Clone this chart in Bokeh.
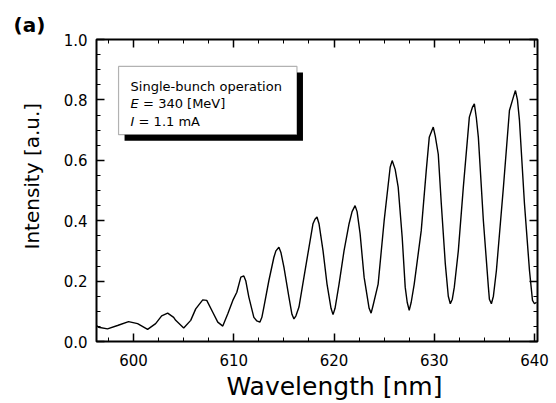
from bokeh.plotting import figure
from bokeh.models import (LinearAxis, SingleIntervalTicker, Range1d, Label, Title,
                          BoxAnnotation, CustomJSTickFormatter)
from bokeh.embed import file_html
from bokeh.resources import INLINE

# ---- data ----
wavelength = [596.3, 596.5, 597.4, 598.4, 599.5, 600.4, 601.4, 602.2, 602.8, 603.4,
              604.0, 604.2, 605.0, 605.7, 606.2, 606.9, 607.3, 607.9, 608.4, 608.9,
              609.4, 609.9, 610.3, 610.7, 611.0, 611.2, 611.5, 612.0, 612.3, 612.6,
              612.8, 613.0, 613.5, 614.0, 614.2, 614.5, 614.7, 615.0, 615.5, 615.8,
              616.0, 616.2, 616.5, 617.0, 617.5, 617.9, 618.1, 618.3, 618.5, 618.9,
              619.3, 619.7, 619.9, 620.1, 620.5, 621.0, 621.5, 621.8, 622.1, 622.3,
              622.6, 623.0, 623.5, 623.7, 623.9, 624.4, 625.0, 625.6, 625.8, 626.1,
              626.4, 626.8, 627.1, 627.3, 627.5, 627.7, 628.0, 628.7, 629.2, 629.5,
              629.9, 630.1, 630.4, 630.7, 631.1, 631.4, 631.6, 631.8, 632.0, 632.4,
              632.9, 633.5, 633.8, 634.0, 634.2, 634.4, 634.9, 635.4, 635.5, 635.7,
              635.9, 636.2, 636.9, 637.5, 637.9, 638.1, 638.3, 638.5, 639.0, 639.5,
              639.8, 640.0, 640.2]
intensity = [0.053, 0.047, 0.042, 0.053, 0.066, 0.059, 0.040, 0.059, 0.085, 0.094,
             0.080, 0.070, 0.045, 0.070, 0.108, 0.138, 0.136, 0.097, 0.064, 0.051,
             0.092, 0.136, 0.163, 0.213, 0.217, 0.200, 0.147, 0.080, 0.068, 0.064,
             0.080, 0.114, 0.202, 0.279, 0.300, 0.312, 0.295, 0.246, 0.147, 0.090,
             0.075, 0.085, 0.114, 0.213, 0.312, 0.390, 0.405, 0.412, 0.390, 0.301,
             0.190, 0.110, 0.089, 0.110, 0.190, 0.301, 0.390, 0.430, 0.450, 0.430,
             0.357, 0.213, 0.110, 0.094, 0.120, 0.190, 0.400, 0.577, 0.599, 0.570,
             0.511, 0.345, 0.180, 0.130, 0.103, 0.130, 0.190, 0.367, 0.566, 0.676,
             0.710, 0.680, 0.620, 0.457, 0.258, 0.150, 0.125, 0.140, 0.180, 0.300,
             0.511, 0.743, 0.775, 0.787, 0.740, 0.676, 0.400, 0.180, 0.140, 0.125,
             0.150, 0.235, 0.511, 0.765, 0.810, 0.831, 0.800, 0.732, 0.456, 0.235,
             0.136, 0.125, 0.130]

x_tick_step = 10
y_tick_step = 0.2
panel_label = "(a)"
x_title = "Wavelength [nm]"
y_title = "Intensity [a.u.]"
note_line1 = "Single-bunch operation"
note_line2 = ["E", "= 340 [MeV]"]
note_line3 = ["I", "= 1.1 mA"]

FONT = "DejaVu Sans"

p = figure(width=556, height=403,
           x_range=Range1d(596.3, 640.3), y_range=Range1d(0.0, 1.0),
           output_backend="svg", toolbar_location=None,
           min_border_left=96, min_border_right=19,
           min_border_top=39, min_border_bottom=62)
p.grid.visible = False
p.background_fill_color = "white"
p.border_fill_color = "white"
p.outline_line_color = "black"
p.outline_line_width = 2

p.title.text = panel_label
p.title.text_font = FONT
p.title.text_font_size = "20px"
p.title.text_font_style = "bold"
p.title.text_color = "black"
p.title.align = "left"
p.title.offset = -83
p.title.standoff = 6


def style_axis(ax, labels=True):
    ax.axis_line_color = None
    ax.major_tick_in = 8
    ax.major_tick_out = 0
    ax.minor_tick_in = 4
    ax.minor_tick_out = 0
    ax.major_tick_line_width = 1.5
    ax.minor_tick_line_width = 1
    ax.major_tick_line_color = "black"
    ax.minor_tick_line_color = "black"
    ax.major_label_text_font = FONT
    ax.major_label_text_font_size = "15px"
    ax.major_label_text_color = "black"
    if not labels:
        ax.formatter = CustomJSTickFormatter(code="return ''")
        ax.major_label_standoff = 0
        ax.major_label_text_font_size = "1px"


xt = SingleIntervalTicker(interval=x_tick_step, num_minor_ticks=4)
yt = SingleIntervalTicker(interval=y_tick_step, num_minor_ticks=4)

p.xaxis.ticker = xt
p.yaxis.ticker = yt
style_axis(p.xaxis[0])
style_axis(p.yaxis[0])
p.xaxis.major_label_standoff = 12
p.yaxis.major_label_standoff = 9
p.yaxis.formatter = CustomJSTickFormatter(code="return tick.toFixed(1)")

top_ax = LinearAxis(ticker=SingleIntervalTicker(interval=x_tick_step, num_minor_ticks=4))
right_ax = LinearAxis(ticker=SingleIntervalTicker(interval=y_tick_step, num_minor_ticks=4))
style_axis(top_ax, labels=False)
style_axis(right_ax, labels=False)
p.add_layout(top_ax, "above")
p.add_layout(right_ax, "right")

# axis titles as side-panel titles (positionable with offset)
p.add_layout(Title(text=x_title, align="left", offset=130, standoff=2,
                   text_font=FONT, text_font_size="25px",
                   text_font_style="normal", text_color="black"), "below")
p.add_layout(Title(text=y_title, align="left", offset=92, standoff=34,
                   text_font=FONT, text_font_size="20px",
                   text_font_style="normal", text_color="black"), "left")

p.line(wavelength, intensity, line_color="black", line_width=1.4)

# note box with drop shadow
p.add_layout(BoxAnnotation(left=599.1, right=616.9, top=0.891, bottom=0.665,
                           fill_color="black", fill_alpha=1.0, line_color=None))
p.add_layout(BoxAnnotation(left=598.5, right=616.3, top=0.911, bottom=0.685,
                           fill_color="white", fill_alpha=1.0,
                           line_color="black", line_width=1.2))


def lab(x, y, text, size, style="normal", align="left"):
    p.add_layout(Label(x=x, y=y, text=text, text_font=FONT,
                       text_font_size=size, text_font_style=style,
                       text_color="black", text_align=align,
                       text_baseline="alphabetic"))


lab(599.7, 0.844, note_line1, "13px")
lab(599.7, 0.788, note_line2[0], "13px", "italic")
lab(600.95, 0.788, note_line2[1], "13px")
lab(599.7, 0.728, note_line3[0], "13px", "italic")
lab(600.5, 0.728, note_line3[1], "13px")

open("out.html", "w").write(file_html(p, INLINE))
